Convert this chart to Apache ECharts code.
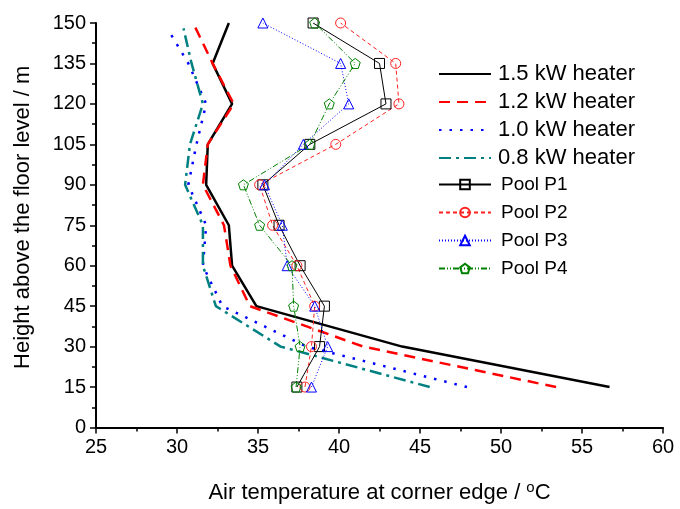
<!DOCTYPE html>
<html>
<head>
<meta charset="utf-8">
<script src="https://cdn.jsdelivr.net/npm/echarts@6/dist/echarts.min.js"></script>
<style>
  html, body { margin: 0; padding: 0; background: #fff; }
  #chart { width: 680px; height: 509px; }
</style>
</head>
<body>
<div id="chart"></div>
<script>
// Measurement heights (m)
const heights = [15, 30, 45, 60, 75, 90, 105, 120, 135, 150];
// Lower-power heater profiles start slightly below the top level
const heightsHeater10 = [15, 30, 45, 60, 75, 90, 105, 120, 135, 147];
const heightsHeater08 = [15, 30, 45, 60, 75, 90, 105, 120, 135, 148];

// Simulated air temperature at corner edge (°C) for each heater power
const heater15 = [56.7, 43.9, 34.9, 33.4, 33.2, 31.8, 31.9, 33.4, 32.2, 33.2];
const heater12 = [53.4, 41.5, 34.5, 33.3, 32.9, 31.6, 31.9, 33.5, 32.2, 31.0];
const heater10 = [47.9, 38.0, 32.8, 31.6, 31.8, 30.7, 31.2, 31.8, 30.7, 29.5];
const heater08 = [45.6, 36.4, 32.4, 31.6, 31.6, 30.5, 30.8, 31.6, 30.9, 30.4];

// Measured air temperature at corner edge (°C) for each pool
const poolP1 = [37.4, 38.8, 39.1, 37.6, 36.3, 35.3, 38.2, 42.9, 42.5, 38.4];
const poolP2 = [37.9, 38.3, 38.5, 37.4, 35.9, 35.1, 39.8, 43.7, 43.5, 40.1];
const poolP3 = [38.3, 39.3, 38.5, 36.8, 36.5, 35.4, 37.8, 40.6, 40.1, 35.3];
const poolP4 = [37.35, 37.6, 37.2, 37.1, 35.1, 34.1, 38.2, 39.4, 41.0, 38.5];

// Axis ticks
const xTicks = { min: 25, max: 60, step: 5 };
const yTicks = { min: 0, max: 150, step: 15 };

const heaterNames = ['1.5 kW heater', '1.2 kW heater', '1.0 kW heater', '0.8 kW heater'];
const poolNames = ['Pool P1', 'Pool P2', 'Pool P3', 'Pool P4'];

const FONT = 'Arial, "Liberation Sans", sans-serif';
const pentagon = 'path://M0,-1 L0.951,-0.309 L0.588,0.809 L-0.588,0.809 L-0.951,-0.309 Z';

function pairs(temps, hs) {
  return temps.map((t, i) => [t, hs[i]]);
}

function heaterSeries(name, temps, hs, color, type, width) {
  return {
    name: name,
    type: 'line',
    data: pairs(temps, hs),
    symbol: 'none',
    silent: true,
    animation: false,
    lineStyle: { color: color, width: width, type: type, cap: 'butt' },
    itemStyle: { color: 'rgba(0,0,0,0)', borderWidth: 0 },
    z: 2
  };
}

function poolSeries(name, temps, color, type, symbol) {
  return {
    name: name,
    type: 'line',
    data: pairs(temps, heights),
    symbol: symbol,
    symbolSize: 10,
    silent: true,
    animation: false,
    lineStyle: { color: color, width: 1, type: type },
    itemStyle: { color: 'rgba(0,0,0,0)', borderColor: color, borderWidth: 1 },
    z: 3
  };
}

const axisCommon = {
  type: 'value',
  nameLocation: 'middle',
  axisLine: { show: true, onZero: false, lineStyle: { color: '#000', width: 2 } },
  axisTick: { show: true, inside: false, length: 6, lineStyle: { color: '#000', width: 1.5 } },
  minorTick: { show: true, splitNumber: 2, length: 4, lineStyle: { color: '#000', width: 1.5 } },
  splitLine: { show: false },
  axisLabel: { color: '#000', fontFamily: FONT, fontSize: 20, margin: 10 }
};

const chart = echarts.init(document.getElementById('chart'), null, { renderer: 'canvas' });

chart.setOption({
  backgroundColor: '#fff',
  animation: false,
  grid: { left: 96, right: 17, top: 23, bottom: 81, containLabel: false },
  xAxis: Object.assign({}, axisCommon, {
    min: xTicks.min, max: xTicks.max, interval: xTicks.step,
    name: 'Air temperature at corner edge / {sup|o}C',
    nameGap: 53,
    nameTextStyle: {
      fontFamily: FONT, fontSize: 22, color: '#000',
      rich: { sup: { fontFamily: FONT, fontSize: 15, color: '#000', verticalAlign: 'top', padding: [0, 0, 10, 0] } }
    }
  }),
  yAxis: Object.assign({}, axisCommon, {
    min: yTicks.min, max: yTicks.max, interval: yTicks.step,
    name: 'Height above the floor level / m',
    nameGap: 62,
    nameTextStyle: { fontFamily: FONT, fontSize: 22, color: '#000', padding: [0, 0, 0, 16] }
  }),
  legend: [
    {
      data: heaterNames,
      orient: 'vertical',
      left: 438,
      top: 63,
      padding: 0,
      itemWidth: 52,
      itemHeight: 12,
      itemGap: 6,
      selectedMode: false,
      itemStyle: { opacity: 0 },
      textStyle: { fontFamily: FONT, fontSize: 22, color: '#000', padding: [0, 0, 0, 2] }
    },
    {
      data: poolNames,
      orient: 'vertical',
      left: 438,
      top: 175,
      padding: 0,
      itemWidth: 52,
      itemHeight: 12,
      itemGap: 9,
      selectedMode: false,
      textStyle: { fontFamily: FONT, fontSize: 19, color: '#000', padding: [0, 0, 0, 5] }
    }
  ],
  series: [
    heaterSeries(heaterNames[0], heater15, heights, '#000000', 'solid', 2.5),
    heaterSeries(heaterNames[1], heater12, heights, '#ff0000', [11, 7], 2.5),
    heaterSeries(heaterNames[2], heater10, heightsHeater10, '#0000ff', [2.5, 8], 2.5),
    heaterSeries(heaterNames[3], heater08, heightsHeater08, '#008080', [12, 5, 3, 5], 2.5),
    poolSeries(poolNames[0], poolP1, '#000000', 'solid', 'rect'),
    poolSeries(poolNames[1], poolP2, '#ff2020', [4, 3], 'circle'),
    poolSeries(poolNames[2], poolP3, '#0000ff', [1, 2], 'triangle'),
    poolSeries(poolNames[3], poolP4, '#008000', [6, 2, 1, 2, 1, 2], pentagon)
  ]
});
</script>
</body>
</html>
